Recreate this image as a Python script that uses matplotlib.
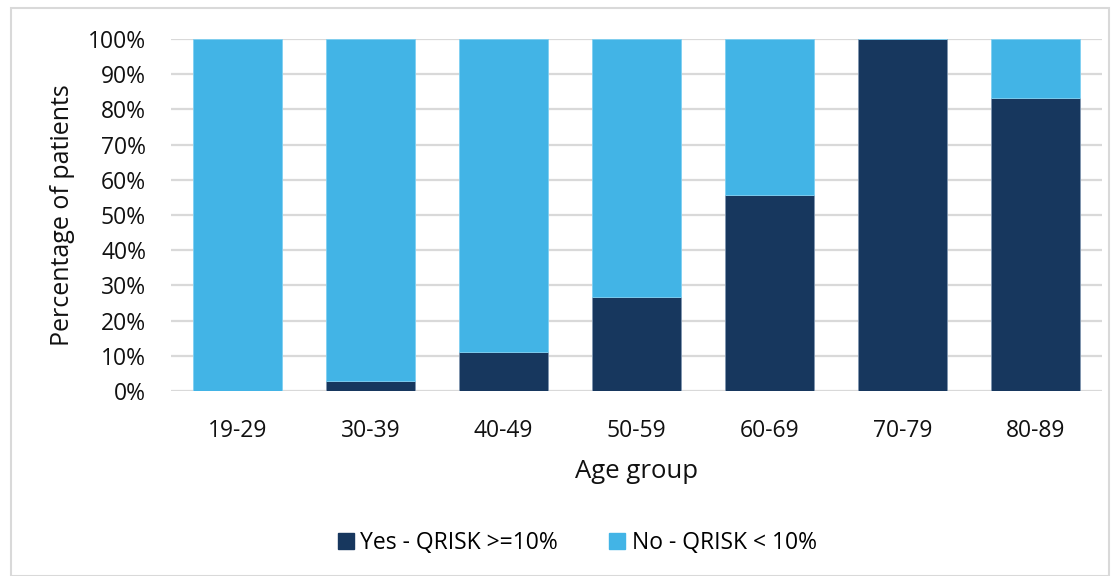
import matplotlib.pyplot as plt
import matplotlib.patches as mpatches
import numpy as np

age_groups = ['19-29', '30-39', '40-49', '50-59', '60-69', '70-79', '80-89']
yes_pct = [0, 2.9, 11.0, 26.7, 55.6, 100, 83.3]
no_pct = [100 - v for v in yes_pct]

dark = '#17375e'
light = '#42b4e6'

plt.rcParams['font.family'] = ['Open Sans', 'DejaVu Sans']

fig = plt.figure(figsize=(11.19, 5.76), dpi=100)
ax = fig.add_axes([171 / 1119, 1 - 391 / 576, (1102 - 171) / 1119, (391 - 39) / 576])

x = np.arange(len(age_groups))
ax.bar(x, yes_pct, width=0.665, color=dark, edgecolor='#8096b0', linewidth=0.6,
       label='Yes - QRISK >=10%', zorder=3)
ax.bar(x, no_pct, bottom=yes_pct, width=0.665, color=light, edgecolor='#7fd0f2',
       linewidth=0.6, label='No - QRISK < 10%', zorder=3)

ax.set_xlim(-0.5, len(age_groups) - 0.5)
ax.set_ylim(0, 100)
ax.set_yticks(np.arange(0, 101, 10))
ax.set_yticklabels([f'{v}%' for v in range(0, 101, 10)])
ax.set_xticks(x)
ax.set_xticklabels(age_groups)
ax.tick_params(axis='both', length=0, labelsize=16.5, colors='#111111')
ax.tick_params(axis='x', pad=20)
ax.tick_params(axis='y', pad=18)
ax.yaxis.grid(True, color='#d9d9d9', linewidth=1.6, zorder=0)
for s in ax.spines.values():
    s.set_visible(False)

ax.set_xlabel('Age group', fontsize=18.5, color='#111111', labelpad=12)
ax.set_ylabel('Percentage of patients', fontsize=18, color='#111111', labelpad=9)

handles = [mpatches.Patch(color=dark, label='Yes - QRISK >=10%'),
           mpatches.Patch(color=light, label='No - QRISK < 10%')]
fig.legend(handles=handles, loc='center', bbox_to_anchor=(577 / 1119, 1 - 543 / 576),
           ncol=2, frameon=False, fontsize=16.5, handlelength=0.7, handleheight=0.7,
           handletextpad=0.3, columnspacing=2.2)

# outer chart border
fig.patches.append(mpatches.Rectangle((11 / 1119, 0), 1098 / 1119, 1 - 8 / 576,
                                      transform=fig.transFigure, fill=False,
                                      edgecolor='#d9d9d9', linewidth=1.5))

fig.savefig('out.png', dpi=100)
